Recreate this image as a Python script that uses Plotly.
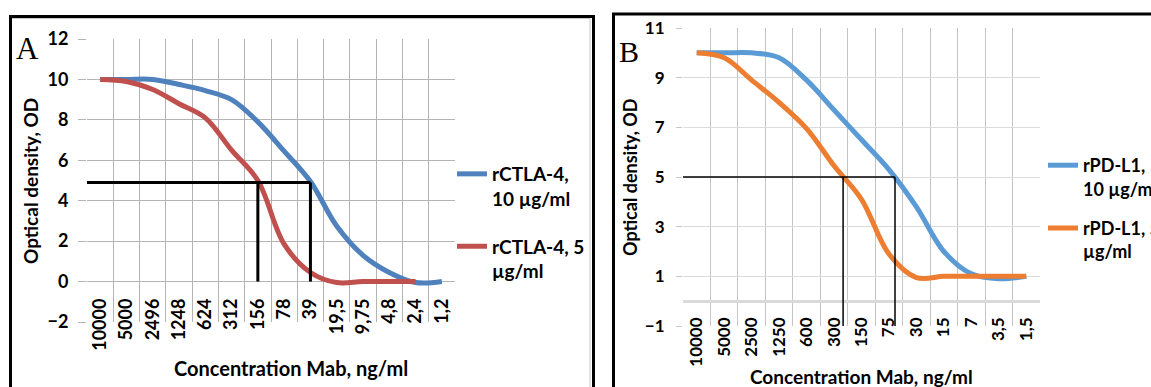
import plotly.graph_objects as go

W, H = 1151, 387

# ---------------- Panel A data ----------------
cats_a = ["10000", "5000", "2496", "1248", "624", "312", "156", "78", "39",
          "19,5", "9,75", "4,8", "2,4", "1,2"]
ctla_10 = [10.0, 10.0, 10.0, 9.75, 9.45, 9.0, 7.9, 6.45, 4.95, 2.75, 1.3, 0.45, -0.05, 0.0]
ctla_5 = [10.0, 9.9, 9.5, 8.8, 8.1, 6.5, 5.0, 1.85, 0.45, -0.05, 0.0, 0.0, 0.0, None]
name_a10 = "rCTLA-4,<br>10 µg/ml"
name_a5 = "rCTLA-4, 5<br>µg/ml"
cut_a_level = 4.9
cut_a_cats = ["156", "39"]

# ---------------- Panel B data ----------------
cats_b = ["10000", "5000", "2500", "1250", "600", "300", "150", "75", "30",
          "15", "7", "3,5", "1,5"]
pdl1_10 = [10.0, 10.0, 10.0, 9.8, 8.9, 7.7, 6.5, 5.3, 3.8, 2.0, 1.1, 0.9, 1.0]
pdl1_5 = [10.0, 9.8, 8.9, 8.0, 6.95, 5.45, 4.1, 1.9, 0.95, 1.0, 1.0, 1.0, 1.0]
name_b10 = "rPD-L1,<br>10 µg/ml"
name_b5 = "rPD-L1, 5<br>µg/ml"
cut_b_level = 5.0
cut_b_pos = [5.33, 7.22]   # positions along the category axis (index units)

x_title = "Concentration Mab, ng/ml"
y_title = "Optical density, OD"

FONT = "Lato"


def fx(px):
    return px / W


def fy(py):
    return 1 - py / H


fig = go.Figure()

fig.add_trace(go.Scatter(x=cats_a, y=ctla_10, name=name_a10, mode="lines",
                         line=dict(color="#4F81BD", width=5, shape="spline"),
                         xaxis="x", yaxis="y", legend="legend", legendgroup="a1"))
fig.add_trace(go.Scatter(x=cats_a, y=ctla_5, name=name_a5, mode="lines",
                         line=dict(color="#C0504D", width=5, shape="spline"),
                         xaxis="x", yaxis="y", legend="legend", legendgroup="a2"))
fig.add_trace(go.Scatter(x=cats_b, y=pdl1_10, name=name_b10, mode="lines",
                         line=dict(color="#5B9BD5", width=5, shape="spline"),
                         xaxis="x2", yaxis="y2", legend="legend2", legendgroup="b1"))
fig.add_trace(go.Scatter(x=cats_b, y=pdl1_5, name=name_b5, mode="lines",
                         line=dict(color="#ED7D31", width=5, shape="spline"),
                         xaxis="x2", yaxis="y2", legend="legend2", legendgroup="b2"))

tick_font_a = dict(family=FONT, size=18, color="black", weight="bold")
tick_font_b = dict(family=FONT, size=17, color="black", weight="bold")

fig.update_layout(
    width=W, height=H,
    margin=dict(l=0, r=0, t=0, b=0, pad=0, autoexpand=False),
    paper_bgcolor="white", plot_bgcolor="white",
    xaxis=dict(domain=[fx(87), fx(455)], type="category", categoryorder="array",
               categoryarray=cats_a, tickson="boundaries", showgrid=True,
               gridcolor="#b4b4b4", gridwidth=1, ticks="", tickangle=-90,
               tickfont=tick_font_a, anchor="free", position=fy(282),
               showline=False, zeroline=False, range=[-0.5, len(cats_a) - 0.5],
               ticklabelstandoff=12, automargin=False),
    yaxis=dict(domain=[fy(322), fy(39)], range=[-2, 12], dtick=2, tick0=0,
               showgrid=True, gridcolor="#b4b4b4", gridwidth=1, zeroline=False,
               ticks="outside", ticklen=8, tickcolor="#b4b4b4", tickwidth=1,
               tickfont=tick_font_a, anchor="x", ticklabelstandoff=6,
               showline=False, automargin=False),
    xaxis2=dict(domain=[fx(683), fx(1040)], type="category", categoryorder="array",
                categoryarray=cats_b, tickson="boundaries", showgrid=True,
                gridcolor="#c4c4c4", gridwidth=1, ticks="", tickangle=-90,
                tickfont=tick_font_b, anchor="free", position=fy(301),
                showline=False, zeroline=False, range=[-0.5, len(cats_b) - 0.5],
                ticklabelstandoff=12, automargin=False),
    yaxis2=dict(domain=[fy(326), fy(28)], range=[-1, 11], dtick=2, tick0=-1,
                showgrid=True, gridcolor="#dcdcdc", gridwidth=1, zeroline=True,
                zerolinecolor="#dadada", zerolinewidth=3,
                ticks="outside", ticklen=6, tickcolor="#c8c8c8", tickwidth=1,
                tickfont=tick_font_b, anchor="x2", ticklabelstandoff=8,
                showline=False, automargin=False),
    legend=dict(x=fx(452), y=fy(155), xanchor="left", yanchor="top",
                font=dict(family=FONT, size=19, color="black", weight="bold"),
                valign="top", tracegroupgap=20, bgcolor="rgba(0,0,0,0)"),
    legend2=dict(x=fx(1043), y=fy(147), xanchor="left", yanchor="top",
                 font=dict(family=FONT, size=18, color="black", weight="bold"),
                 valign="top", tracegroupgap=13, bgcolor="rgba(0,0,0,0)"),
    showlegend=True,
)

shapes = []
# Panel frames
shapes.append(dict(type="rect", xref="paper", yref="paper", x0=fx(10.5), x1=fx(593.5),
                   y0=fy(400), y1=fy(16.5), line=dict(color="black", width=3)))
shapes.append(dict(type="line", xref="paper", yref="paper", x0=fx(12), x1=fx(590),
                   y0=fy(18.5), y1=fy(18.5), line=dict(color="#c8c8c8", width=1)))
shapes.append(dict(type="line", xref="paper", yref="paper", x0=fx(590), x1=fx(590),
                   y0=fy(18.5), y1=fy(400), line=dict(color="#c8c8c8", width=1)))
shapes.append(dict(type="rect", xref="paper", yref="paper", x0=fx(613.5), x1=fx(1170),
                   y0=fy(400), y1=fy(14), line=dict(color="black", width=3)))

# Cut-off guide lines, panel A
ia = [cats_a.index(c) for c in cut_a_cats]
shapes.append(dict(type="line", xref="x", yref="y", x0=-0.5, x1=ia[1],
                   y0=cut_a_level, y1=cut_a_level, layer="above",
                   line=dict(color="black", width=3)))
for i in ia:
    shapes.append(dict(type="line", xref="x", yref="y", x0=i, x1=i,
                       y0=0, y1=cut_a_level, layer="above",
                       line=dict(color="black", width=3)))

# Cut-off guide lines, panel B
shapes.append(dict(type="line", xref="x2", yref="y2", x0=-0.5, x1=cut_b_pos[1],
                   y0=cut_b_level, y1=cut_b_level, layer="above",
                   line=dict(color="black", width=1.5)))
for p in cut_b_pos:
    shapes.append(dict(type="line", xref="x2", yref="y2", x0=p, x1=p,
                       y0=-1, y1=cut_b_level, layer="above",
                       line=dict(color="black", width=1.5)))
fig.update_layout(shapes=shapes)


def label(text, cx, cy, size, family=FONT, angle=0, bold=True):
    f = dict(family=family, size=size, color="black")
    if bold:
        f["weight"] = "bold"
    return dict(text=text, x=fx(cx), y=fy(cy), xref="paper", yref="paper",
                xanchor="center", yanchor="middle", textangle=angle,
                showarrow=False, font=f)


ann = [
    label("A", 27.5, 48, 31, family="Liberation Serif", bold=False),
    label("B", 629, 52, 30, family="Liberation Serif", bold=False),
    label(y_title, 30, 181, 19, angle=-90),
    label(y_title, 630, 177, 18, angle=-90),
    label(x_title, 291, 368, 20),
    label(x_title, 861, 376, 19),
]
fig.update_layout(annotations=ann)

fig.write_html("out.html", config={"displayModeBar": False},
               post_script="document.body.style.margin='0';document.body.style.overflow='hidden';")
